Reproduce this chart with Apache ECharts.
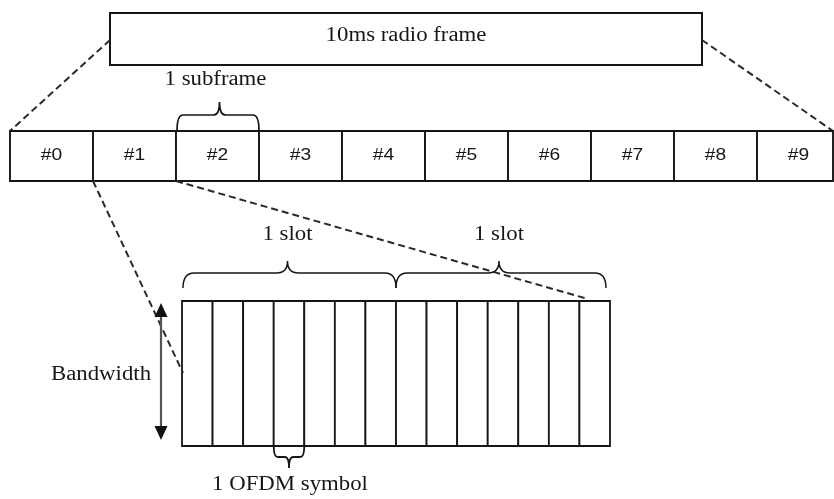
<!DOCTYPE html>
<html>
<head>
<meta charset="utf-8">
<script src="https://cdn.jsdelivr.net/npm/echarts@6/dist/echarts.min.js"></script>
<style>
html,body{margin:0;padding:0;background:#fff;}
#chart{width:834px;height:499px;}
</style>
</head>
<body>
<div id="chart"></div>
<script>
// ---- data ----
const frameTitle = '10ms radio frame';
const subframeLabels = ['#0', '#1', '#2', '#3', '#4', '#5', '#6', '#7', '#8', '#9'];
const subframeNote = '1 subframe';
const slotLabels = ['1 slot', '1 slot'];
const symbolsPerSlot = [7, 7];
const bandwidthNote = 'Bandwidth';
const symbolNote = '1 OFDM symbol';
const zoomedSubframe = 1;      // subframe expanded into slots below
const markedSubframe = 2;      // subframe carrying the "1 subframe" brace
const markedSymbol = 3;        // symbol carrying the "1 OFDM symbol" brace

// ---- layout (diagram space, 1 unit = 1 px) ----
const L = {
  frame: { x0: 110, x1: 702, y0: 13, y1: 65, linkY: 40 },
  row: { x0: 10, cell: 83, y0: 131, y1: 181, right: 833 },
  grid: { x0: 182, x1: 610, y0: 301, y1: 446 },
  subBrace: { yMid: 115, yPeak: 102, textY: 80 },
  slotBrace: { yEnd: 288, yMid: 273, yPeak: 261, textY: 235 },
  bw: { x: 161, y0: 303, y1: 440, textX: 101 },
  symBrace: { yMid: 457, yStem: 468, textY: 485 },
  link1End: [183, 373],
  link2End: [588, 299]
};
const INK = '#161616';
const SERIF = '20px "Liberation Serif", "DejaVu Serif", serif';
const SANS = '16px "Liberation Sans", Arial, sans-serif';
const TXS = 1.14;
const DASH = { lineDash: [7, 4], lineWidth: 2, stroke: '#2a2a2a' };

const chart = echarts.init(document.getElementById('chart'));

function P(api, x, y) { return api.coord([x, y]); }

function text(api, str, x, y, font, sx) {
  const p = P(api, x, y);
  return {
    type: 'text', x: p[0], y: p[1], scaleX: sx || TXS, scaleY: 1,
    style: { text: str, x: 0, y: 0, font: font, fill: INK, align: 'center', verticalAlign: 'middle' }
  };
}
function line(api, a, b, opt) {
  const p = P(api, a[0], a[1]), q = P(api, b[0], b[1]);
  return {
    type: 'line', shape: { x1: p[0], y1: p[1], x2: q[0], y2: q[1] },
    style: Object.assign({ stroke: INK, lineWidth: 1.8 }, opt || {})
  };
}
// horizontal curly brace; yEnd: tips of arms, yMid: long bar, yPeak: point
function brace(api, x0, x1, xm, yEnd, yMid, yPeak, r, w) {
  const a = P(api, x0, yEnd), b = P(api, x1, yEnd), m = P(api, xm, yMid), pk = P(api, xm, yPeak);
  const ym = m[1];
  const d = [
    'M', a[0], a[1],
    'Q', a[0], ym, a[0] + r, ym,
    'L', m[0] - r, ym,
    'Q', m[0], ym, pk[0], pk[1],
    'Q', m[0], ym, m[0] + r, ym,
    'L', b[0] - r, ym,
    'Q', b[0], ym, b[0], b[1]
  ].join(' ');
  return { type: 'path', shape: { pathData: d }, style: { stroke: INK, fill: null, lineWidth: w || 1.6 } };
}

const totalSymbols = symbolsPerSlot.reduce((s, v) => s + v, 0);
const symW = (L.grid.x1 - L.grid.x0) / totalSymbols;

const option = {
  animation: false,
  backgroundColor: '#ffffff',
  grid: { left: 0, right: 0, top: 0, bottom: 0 },
  xAxis: { type: 'value', min: 0, max: 834, show: false },
  yAxis: { type: 'value', min: 0, max: 499, inverse: true, show: false },
  series: [
    // radio frame box
    {
      type: 'custom', clip: false, silent: true,
      data: [[0, 0]],
      renderItem: function (params, api) {
        const f = L.frame;
        const a = P(api, f.x0, f.y0), b = P(api, f.x1, f.y1);
        return {
          type: 'group', children: [
            { type: 'rect', shape: { x: a[0], y: a[1], width: b[0] - a[0], height: b[1] - a[1] },
              style: { fill: '#fff', stroke: INK, lineWidth: 2 } },
            text(api, frameTitle, (f.x0 + f.x1) / 2, 36, SERIF),
            line(api, [f.x0, f.linkY], [L.row.x0, L.row.y0], DASH),
            line(api, [f.x1, f.linkY], [L.row.right, L.row.y0], DASH)
          ]
        };
      }
    },
    // subframes
    {
      type: 'custom', clip: false, silent: true,
      data: subframeLabels.map((s, i) => [i, 0]),
      renderItem: function (params, api) {
        const i = params.dataIndex, r = L.row;
        const x0 = r.x0 + i * r.cell;
        const x1 = Math.min(x0 + r.cell, r.right);
        const a = P(api, x0, r.y0), b = P(api, x1, r.y1);
        return {
          type: 'group', children: [
            { type: 'rect', shape: { x: a[0], y: a[1], width: b[0] - a[0], height: b[1] - a[1] },
              style: { fill: '#fff', stroke: INK, lineWidth: 1.9 } },
            text(api, subframeLabels[i], x0 + r.cell / 2, (r.y0 + r.y1) / 2, SANS, 1.2)
          ]
        };
      }
    },
    // OFDM symbols of the expanded subframe
    {
      type: 'custom', clip: false, silent: true,
      data: Array.from({ length: totalSymbols }, (v, i) => [i, 0]),
      renderItem: function (params, api) {
        const i = params.dataIndex, g = L.grid;
        const a = P(api, g.x0 + i * symW, g.y0), b = P(api, g.x0 + (i + 1) * symW, g.y1);
        return { type: 'rect', shape: { x: a[0], y: a[1], width: b[0] - a[0], height: b[1] - a[1] },
          style: { fill: '#fff', stroke: INK, lineWidth: 1.8 } };
      }
    },
    // annotations
    {
      type: 'custom', clip: false, silent: true,
      data: [[0, 0]],
      z: 5,
      renderItem: function (params, api) {
        const r = L.row, g = L.grid;
        const kids = [];
        // subframe brace
        const sx0 = r.x0 + markedSubframe * r.cell, sx1 = sx0 + r.cell;
        kids.push(brace(api, sx0 + 1, sx1, (sx0 + sx1) / 2 + 2, r.y0, L.subBrace.yMid, L.subBrace.yPeak, 6, 1.7));
        kids.push(text(api, subframeNote, (sx0 + sx1) / 2 - 2, L.subBrace.textY, SERIF));
        // zoom links
        const zx0 = r.x0 + zoomedSubframe * r.cell, zx1 = zx0 + r.cell;
        kids.push(line(api, [zx0, r.y1], L.link1End, DASH));
        kids.push(line(api, [zx1, r.y1], L.link2End, DASH));
        // slot braces
        let start = 0;
        slotLabels.forEach((lab, k) => {
          const bx0 = g.x0 + start * symW + (k === 0 ? 1 : 0);
          const bx1 = g.x0 + (start + symbolsPerSlot[k]) * symW - (k === 0 ? 0 : 4);
          const mid = (bx0 + bx1) / 2 - 2;
          kids.push(brace(api, bx0, bx1, mid, L.slotBrace.yEnd, L.slotBrace.yMid, L.slotBrace.yPeak, 11, 1.5));
          kids.push(text(api, lab, mid, L.slotBrace.textY, SERIF));
          start += symbolsPerSlot[k];
        });
        // symbol brace (pointing down)
        const ox0 = g.x0 + markedSymbol * symW, ox1 = ox0 + symW;
        kids.push(brace(api, ox0, ox1, (ox0 + ox1) / 2, g.y1, L.symBrace.yMid, L.symBrace.yStem, 4, 1.8));
        kids.push(text(api, symbolNote, (ox0 + ox1) / 2 + 1, L.symBrace.textY, SERIF));
        // bandwidth arrow
        const bw = L.bw;
        kids.push(line(api, [bw.x, bw.y0 + 12], [bw.x, bw.y1 - 12], { stroke: '#555', lineWidth: 2.2 }));
        const t0 = P(api, bw.x, bw.y0), t1 = P(api, bw.x, bw.y1);
        kids.push({ type: 'polygon', shape: { points: [[t0[0], t0[1]], [t0[0] - 6.5, t0[1] + 14], [t0[0] + 6.5, t0[1] + 14]] }, style: { fill: '#111' } });
        kids.push({ type: 'polygon', shape: { points: [[t1[0], t1[1]], [t1[0] - 6.5, t1[1] - 14], [t1[0] + 6.5, t1[1] - 14]] }, style: { fill: '#111' } });
        kids.push(text(api, bandwidthNote, bw.textX, (bw.y0 + bw.y1) / 2 + 3, SERIF));
        return { type: 'group', children: kids };
      }
    }
  ]
};
chart.setOption(option);
</script>
</body>
</html>
